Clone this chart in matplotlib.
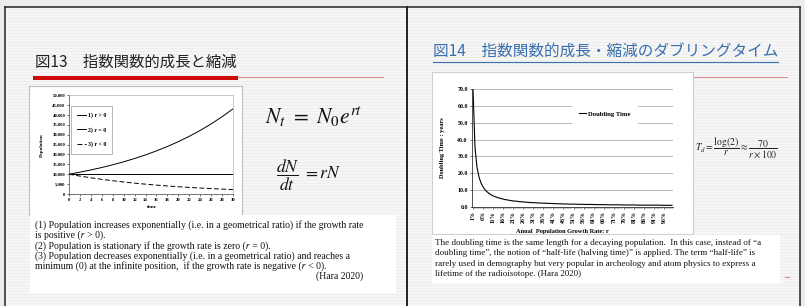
import matplotlib.pyplot as plt
from matplotlib.patches import Rectangle
from matplotlib.lines import Line2D

# --- data ---
time = [0, 2, 4, 6, 8, 10, 12, 14, 16, 18, 20, 22, 24, 26, 28, 30]
pop_growth = [10000, 11020, 12150, 13380, 14750, 16260, 17920, 19750,
              21770, 23990, 26440, 29140, 32120, 35400, 39010, 43000]
pop_stationary = [10000] * 16
pop_decline = [10000, 9050, 8190, 7410, 6700, 6070, 5490, 4970,
               4490, 4070, 3680, 3330, 3010, 2730, 2470, 2230]
pop_ticks = [0, 5000, 10000, 15000, 20000, 25000, 30000, 35000, 40000, 45000, 50000]

growth_rate = list(range(1, 101))  # percent
doubling_time = [69.7, 35.0, 23.4, 17.7, 14.2, 11.9, 10.2, 9.0, 8.0, 7.3,
                 6.6, 6.1, 5.7, 5.3, 5.0, 4.7, 4.4, 4.2, 4.0, 3.8,
                 3.6, 3.5, 3.4, 3.2, 3.1, 3.0, 2.9, 2.8, 2.7, 2.6,
                 2.6, 2.5, 2.4, 2.4, 2.3, 2.3, 2.2, 2.2, 2.1, 2.1,
                 2.0, 2.0, 1.9, 1.9, 1.9, 1.8, 1.8, 1.8, 1.7, 1.7,
                 1.7, 1.7, 1.6, 1.6, 1.6, 1.6, 1.5, 1.5, 1.5, 1.5,
                 1.5, 1.4, 1.4, 1.4, 1.4, 1.4, 1.4, 1.3, 1.3, 1.3,
                 1.3, 1.3, 1.3, 1.3, 1.2, 1.2, 1.2, 1.2, 1.2, 1.2,
                 1.2, 1.2, 1.1, 1.1, 1.1, 1.1, 1.1, 1.1, 1.1, 1.1,
                 1.1, 1.1, 1.1, 1.1, 1.0, 1.0, 1.0, 1.0, 1.0, 1.0]
dt_ticks = [0, 10, 20, 30, 40, 50, 60, 70]

title_left = "図13\u3000指数関数的成長と縮減"
title_right = "図14\u3000指数関数的成長・縮減のダブリングタイム"

# U+1D45F is the italic r used in the slide text
text_left = [
    "(1) Population increases exponentially (i.e. in a geometrical ratio) if the growth rate",
    "is positive (\U0001D45F > 0).",
    "(2) Population is stationary if the growth rate is zero (\U0001D45F = 0).",
    "(3) Population decreases exponentially (i.e. in a geometrical ratio) and reaches a",
    "minimum (0) at the infinite position,  if the growth rate is negative (\U0001D45F < 0).",
]
text_right = [
    "The doubling time is the same length for a decaying population.  In this case, instead of \u201ca",
    "doubling time\u201d, the notion of \u201chalf-life (halving time)\u201d is applied. The term \u201chalf-life\u201d is",
    "rarely used in demography but very popular in archeology and atom physics to express a",
    "lifetime of the radioisotope. (Hara 2020)",
]

plt.rcParams['mathtext.fontset'] = 'stix'
jp = ['Noto Sans CJK JP', 'DejaVu Sans']
serif = 'Liberation Serif'
serif_list = ['Liberation Serif', 'STIXGeneral', 'DejaVu Serif']

W, H = 805, 306
fig = plt.figure(figsize=(W / 100, H / 100), dpi=100)
fig.patch.set_facecolor('#ececec')


def add_ax(x0, y0, x1, y1):
    return fig.add_axes([x0 / W, 1 - y1 / H, (x1 - x0) / W, (y1 - y0) / H])


# background layer in pixel coordinates
bg = fig.add_axes([0, 0, 1, 1])
bg.set_xlim(0, W)
bg.set_ylim(H, 0)
bg.axis('off')

bg.add_patch(Rectangle((5, 7), 795, H - 7, facecolor='#f6f6f6', edgecolor='none', zorder=0))
for yy in range(9, H, 3):
    bg.plot([6, 799], [yy, yy], color='#ececec', lw=0.6, zorder=0.5)
# slide borders
bg.plot([5, 800], [7, 7], color='#333333', lw=1.2, zorder=1)
bg.plot([5, 5], [7, H], color='#333333', lw=1.2, zorder=1)
bg.plot([407, 407], [7, H], color='#222222', lw=1.4, zorder=1)
bg.plot([800, 800], [7, H], color='#333333', lw=1.2, zorder=1)

# titles
bg.text(35, 62, title_left, family=jp, fontsize=11.1, color='#222222', va='center', ha='left')
bg.text(433, 51, title_right, family=jp, fontsize=11.25, color='#3a6fad', va='center', ha='left')
bg.plot([433, 778], [61.5, 61.5], color='#3a6fad', lw=0.8)

# red rules
bg.add_patch(Rectangle((33, 76), 205, 4, facecolor='#cc0a0a', edgecolor='none', zorder=2))
bg.plot([238, 383], [76.5, 76.5], color='#e08a8a', lw=0.7, zorder=2)
bg.plot([693, 787], [76.5, 76.5], color='#e08a8a', lw=0.7, zorder=2)

# white boxes
bg.add_patch(Rectangle((29, 86), 213, 129, facecolor='white', edgecolor='#bdbdbd', lw=0.8, zorder=2))
bg.add_patch(Rectangle((432, 72), 261, 162, facecolor='white', edgecolor='#cfcfcf', lw=0.8, zorder=2))
bg.add_patch(Rectangle((30, 215), 366, 78, facecolor='white', edgecolor='none', zorder=3))
bg.add_patch(Rectangle((432, 235), 348, 48, facecolor='white', edgecolor='none', zorder=4))
bg.plot([785, 789], [277, 277], color='#e08a8a', lw=0.8, zorder=4)

# equations
bg.text(265, 117, r'$N_t\ =\ N_0 e^{rt}$', fontsize=15.5, va='center', ha='left', color='#111111', zorder=5)
bg.text(276, 175, r'$\dfrac{dN}{dt}\ = rN$', fontsize=12.5, va='center', ha='left', color='#111111', zorder=5)
bg.text(695, 148, r'$T_d = \dfrac{\log(2)}{r} \approx \dfrac{70}{r \times 100}$', fontsize=7,
        va='center', ha='left', color='#222222', zorder=5)

# paragraphs
for i, line in enumerate(text_left):
    bg.text(35, 225 + i * 10.3, line, family=serif_list, fontsize=7.0, va='center', ha='left',
            color='#111111', zorder=6)
bg.text(363, 225 + 5 * 10.3, "(Hara 2020)", family=serif, fontsize=7.0, va='center', ha='right',
        color='#111111', zorder=6)
for i, line in enumerate(text_right):
    bg.text(435, 243 + i * 10.3, line, family=serif, fontsize=6.5, va='center', ha='left',
            color='#111111', zorder=6)

# inset chart labels drawn in pixel space
bg.text(42, 145, "Population", family=serif, fontsize=3.6, fontweight='bold', rotation=90,
        va='center', ha='center', zorder=3)
bg.text(152, 207, "time", family=serif, fontsize=3.8, fontweight='bold', va='center', ha='center', zorder=3)
bg.text(442, 148, "Doubling Time : years", family=serif, fontsize=4.6, fontweight='bold', rotation=90,
        va='center', ha='center', zorder=3)
bg.text(562, 231, "Anual  Population Growth Rate: r", family=serif, fontsize=4.6, fontweight='bold',
        va='center', ha='center', zorder=3)

tick_font = {'family': serif, 'weight': 'bold', 'size': 3.4}

# --- left chart: exponential growth / decline ---
ax1 = add_ax(69, 95, 233, 194)
ax1.plot(time, pop_growth, color='black', lw=0.7, label='1) r > 0')
ax1.plot(time, pop_stationary, color='black', lw=0.7, label='2) r = 0')
ax1.plot(time, pop_decline, color='black', lw=0.7, ls=(0, (5, 2.5)), label='3) r < 0')
ax1.set_xlim(0, 30)
ax1.set_ylim(0, 50000)
ax1.set_xticks(time)
ax1.set_xticks(range(0, 31), minor=True)
ax1.set_xticklabels([str(t) for t in time], fontdict=tick_font)
ax1.set_yticks(pop_ticks)
ax1.set_yticklabels([f"{v:,}" for v in pop_ticks], fontdict=tick_font)
ax1.tick_params(length=1.2, width=0.4, pad=1.5)
ax1.tick_params(which='minor', length=0.8, width=0.3)
for s in ['top', 'right']:
    ax1.spines[s].set_color('#b5b5b5')
for s in ['left', 'bottom']:
    ax1.spines[s].set_color('#444444')
for s in ax1.spines.values():
    s.set_linewidth(0.5)
ax1.legend(loc='upper left', bbox_to_anchor=(0.01, 0.89), prop={'family': serif, 'size': 4.2, 'weight': 'bold'},
           handlelength=1.5, handletextpad=0.3, labelspacing=1.5, borderpad=1.1, borderaxespad=0,
           fancybox=False, edgecolor='#999999', framealpha=1).get_frame().set_linewidth(0.5)

# --- right chart: doubling time ---
ax2 = add_ax(472, 89, 673, 207)
ax2.plot(growth_rate, doubling_time, color='black', lw=0.8)
ax2.set_xlim(0.5, 100.5)
ax2.set_ylim(0, 70)
ax2.set_yticks(dt_ticks)
ax2.set_yticklabels([f"{v:.1f}" for v in dt_ticks], fontdict={**tick_font, 'size': 4.2})
ax2.set_xticks(growth_rate[::5])
ax2.set_xticks(growth_rate, minor=True)
ax2.set_xticklabels([f"{g}%" for g in growth_rate[::5]], rotation=90, fontdict={**tick_font, 'size': 4.2})
ax2.yaxis.grid(True, color='#b0b0b0', lw=0.6)
ax2.set_axisbelow(True)
ax2.tick_params(length=1.5, width=0.4, pad=1.5)
ax2.tick_params(which='minor', length=1.2, width=0.3)
for s in ['top', 'right']:
    ax2.spines[s].set_visible(False)
for s in ['left', 'bottom']:
    ax2.spines[s].set_color('#333333')
    ax2.spines[s].set_linewidth(0.6)
ax2.legend([Line2D([], [], color='black', lw=0.8)], ['Doubling Time'], loc='center',
           bbox_to_anchor=(0.66, 0.79), prop={'family': serif, 'size': 4.8, 'weight': 'bold'},
           handlelength=1.1, handletextpad=0.2, borderpad=1.0, frameon=True, edgecolor='white',
           framealpha=1, fancybox=False)

fig.savefig('out.png', dpi=100, facecolor=fig.get_facecolor())
